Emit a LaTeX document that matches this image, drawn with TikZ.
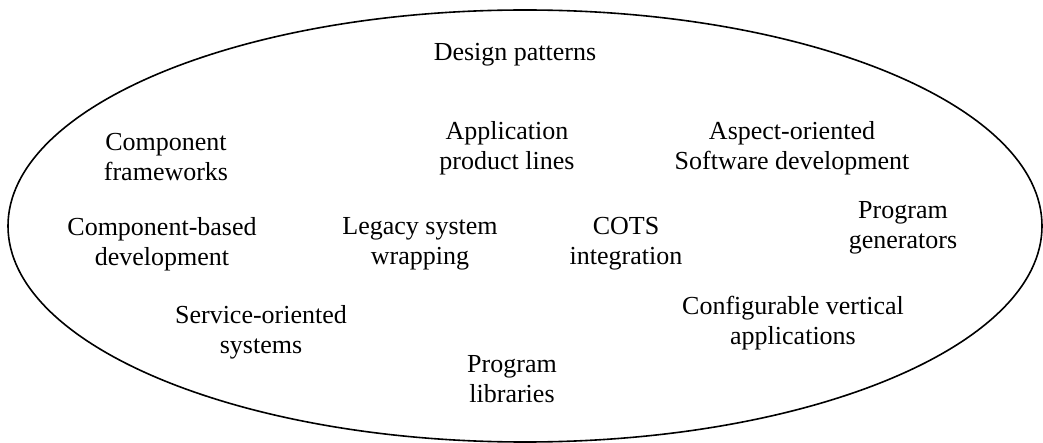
\documentclass[tikz,border=0pt]{standalone}
\usepackage{fontspec}
\setmainfont{Liberation Serif}
\usepackage{tikz}

\begin{document}
\begin{tikzpicture}[x=0.5pt, y=-0.5pt,
  topic/.style={align=center, inner sep=0pt,
    font=\fontsize{13}{15}\selectfont}]
  \useasboundingbox (0,0) rectangle (1043,443);
  \draw[line width=0.8pt] (525,226) ellipse [x radius=258.5pt, y radius=108pt];

  \node[topic] (design) at (515,55) {Design patterns};
  \node[topic] (compfw) at (166,157) {Component\\frameworks};
  \node[topic] (apl) at (507,148) {Application\\product lines};
  \node[topic] (aosd) at (792,148) {Aspect-oriented\\Software development};
  \node[topic] (cbd) at (162,244) {Component-based\\development};
  \node[topic] (legacy) at (420,244) {Legacy system\\wrapping};
  \node[topic] (cots) at (626,244) {COTS\\integration};
  \node[topic] (proggen) at (903,228) {Program\\generators};
  \node[topic] (soa) at (261,332) {Service-oriented\\systems};
  \node[topic] (config) at (793,323) {Configurable vertical\\applications};
  \node[topic] (proglib) at (512,379) {Program\\libraries};
\end{tikzpicture}
\end{document}
